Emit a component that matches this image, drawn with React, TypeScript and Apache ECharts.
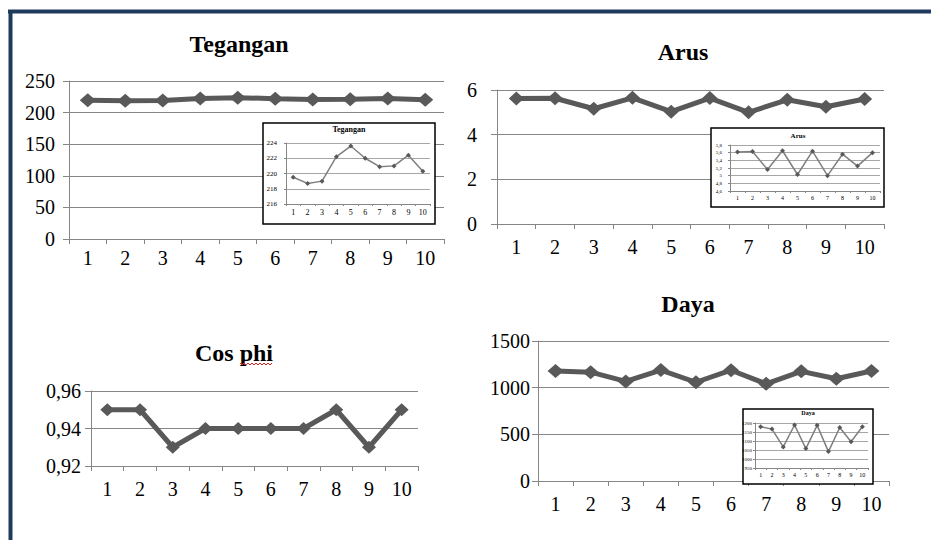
import React, { useEffect, useRef } from "react";
import * as echarts from "echarts";

const categories = ["1", "2", "3", "4", "5", "6", "7", "8", "9", "10"];
const teganganValues = [219.5, 218.7, 219.0, 222.2, 223.6, 222.0, 220.9, 221.0, 222.4, 220.3];
const arusValues = [5.62, 5.63, 5.16, 5.65, 5.03, 5.64, 5.0, 5.56, 5.25, 5.6];
const cosPhiValues = [0.95, 0.95, 0.93, 0.94, 0.94, 0.94, 0.94, 0.95, 0.93, 0.95];
const dayaValues = [1179, 1166, 1067, 1189, 1058, 1187, 1041, 1175, 1096, 1179];

const FONT = "Liberation Serif";
const comma = (d: number) => (v: number) => String(+(+v).toFixed(d)).replace(".", ",");

const mains = [
  { title: "Tegangan", tx: 239, ty: 44, left: 69, top: 81, width: 375, height: 158, min: 0, max: 250, interval: 50, data: teganganValues, yMargin: 14, xMargin: 9, sym: [16, 14], fmt: comma(0) },
  { title: "Arus", tx: 683, ty: 52, left: 497, top: 90, width: 387, height: 134, min: 0, max: 6, interval: 2, data: arusValues, yMargin: 20, xMargin: 13, sym: [15, 14], fmt: comma(0) },
  { title: "Cos phi", tx: 234, ty: 353, left: 91, top: 391, width: 327, height: 75, min: 0.92, max: 0.96, interval: 0.02, data: cosPhiValues, yMargin: 10, xMargin: 13, sym: [14, 13], fmt: comma(2) },
  { title: "Daya", tx: 688, ty: 304, left: 538, top: 341, width: 351, height: 140, min: 0, max: 1500, interval: 500, data: dayaValues, yMargin: 8, xMargin: 13, sym: [16, 14], fmt: comma(0) },
];

const insets = [
  { title: "Tegangan", box: [263, 123, 172, 101], tx: 349, ty: 129, tfs: 8, left: 286, top: 143, width: 144, height: 61, min: 216, max: 224, interval: 2, data: teganganValues, lfs: 7, yMargin: 9, xMargin: 4, fmt: comma(0) },
  { title: "Arus", box: [711, 128, 173, 79], tx: 798, ty: 136, tfs: 7, left: 730, top: 145, width: 150, height: 46, min: 4.6, max: 5.8, interval: 0.2, data: arusValues, lfs: 5, yMargin: 8, xMargin: 4, fmt: comma(1) },
  { title: "Daya", box: [743, 409, 130, 75], tx: 808, ty: 413, tfs: 6, left: 755, top: 423, width: 113, height: 45, min: 950, max: 1200, interval: 50, data: dayaValues, lfs: 5, yMargin: 3, xMargin: 4, fmt: comma(0) },
];

export default function App() {
  const ref = useRef<HTMLDivElement>(null);
  useEffect(() => {
    document.body.style.margin = "0";
    if (!ref.current) return;
    const chart = echarts.init(ref.current, undefined, { renderer: "svg" });
    const grids: any[] = [];
    const xAxes: any[] = [];
    const yAxes: any[] = [];
    const series: any[] = [];
    const graphics: any[] = [];
    const gray = "#868686";

    mains.forEach((m, i) => {
      grids.push({ left: m.left, top: m.top, width: m.width, height: m.height, containLabel: false, outerBoundsMode: "none" });
      xAxes.push({
        type: "category", gridIndex: i, data: categories, boundaryGap: true, z: 0,
        axisLine: { show: true, lineStyle: { color: gray, width: 1 } },
        axisTick: { show: true, length: 5, lineStyle: { color: gray } },
        axisLabel: { fontFamily: FONT, fontSize: 20, color: "#000", margin: m.xMargin },
      });
      yAxes.push({
        type: "value", gridIndex: i, min: m.min, max: m.max, interval: m.interval, z: 0,
        axisLine: { show: true, lineStyle: { color: gray, width: 1 } },
        axisTick: { show: true, length: 6, lineStyle: { color: gray } },
        splitLine: { show: true, lineStyle: { color: gray, width: 1 } },
        axisLabel: { fontFamily: FONT, fontSize: 20, color: "#000", margin: m.yMargin, formatter: m.fmt },
      });
      series.push({
        type: "line", xAxisIndex: i, yAxisIndex: i, data: m.data, z: 2,
        symbol: "diamond", symbolSize: m.sym,
        lineStyle: { color: "#595959", width: 5 },
        itemStyle: { color: "#595959" },
      });
      graphics.push({
        type: "text", x: m.tx, y: m.ty, z: 1,
        style: { text: m.title, font: `bold 24px ${FONT}`, fill: "#000", textAlign: "center", textVerticalAlign: "middle", align: "center", verticalAlign: "middle" },
      });
    });

    insets.forEach((s, k) => {
      const i = k + 4;
      grids.push({ left: s.left, top: s.top, width: s.width, height: s.height, containLabel: false, outerBoundsMode: "none" });
      xAxes.push({
        type: "category", gridIndex: i, data: categories, boundaryGap: true, z: 12,
        axisLine: { show: true, lineStyle: { color: gray, width: 1 } },
        axisTick: { show: true, length: 2, lineStyle: { color: gray } },
        axisLabel: { fontFamily: FONT, fontSize: s.lfs + 1, color: "#000", margin: s.xMargin },
      });
      yAxes.push({
        type: "value", gridIndex: i, min: s.min, max: s.max, interval: s.interval, z: 12,
        axisLine: { show: true, lineStyle: { color: gray, width: 1 } },
        axisTick: { show: true, length: 2, lineStyle: { color: gray } },
        splitLine: { show: true, lineStyle: { color: "#a6a6a6", width: 1 } },
        axisLabel: { fontFamily: FONT, fontSize: s.lfs, color: "#000", margin: s.yMargin, formatter: s.fmt },
      });
      series.push({
        type: "line", xAxisIndex: i, yAxisIndex: i, data: s.data, z: 13,
        symbol: "diamond", symbolSize: 5,
        lineStyle: { color: "#7f7f7f", width: 1.5 },
        itemStyle: { color: "#595959" },
      });
      graphics.push({
        type: "rect", z: 10,
        shape: { x: s.box[0], y: s.box[1], width: s.box[2], height: s.box[3] },
        style: { fill: "#fff", stroke: "#000", lineWidth: 1.5 },
      });
      graphics.push({
        type: "text", x: s.tx, y: s.ty, z: 11,
        style: { text: s.title, font: `bold ${s.tfs}px ${FONT}`, fill: "#000", textAlign: "center", textVerticalAlign: "middle", align: "center", verticalAlign: "middle" },
      });
    });

    // page frame
    graphics.push({ type: "line", z: 20, shape: { x1: 8, y1: 11.5, x2: 931, y2: 11.5 }, style: { stroke: "#1f3a5c", lineWidth: 4 } });
    graphics.push({ type: "line", z: 20, shape: { x1: 10.5, y1: 10, x2: 10.5, y2: 540 }, style: { stroke: "#1f3a5c", lineWidth: 4 } });
    // spell-check squiggle under "phi"
    const sq: number[][] = [];
    for (let x = 240, j = 0; x <= 273; x += 2, j++) sq.push([x, j % 2 === 0 ? 363 : 365]);
    graphics.push({ type: "polyline", z: 5, shape: { points: sq }, style: { stroke: "#e02020", lineWidth: 1, fill: null } });

    chart.setOption({
      animation: false,
      backgroundColor: "#fff",
      textStyle: { fontFamily: FONT },
      grid: grids,
      xAxis: xAxes,
      yAxis: yAxes,
      series,
      graphic: { elements: graphics },
    });
    return () => chart.dispose();
  }, []);
  return <div ref={ref} style={{ width: 931, height: 540 }} />;
}
